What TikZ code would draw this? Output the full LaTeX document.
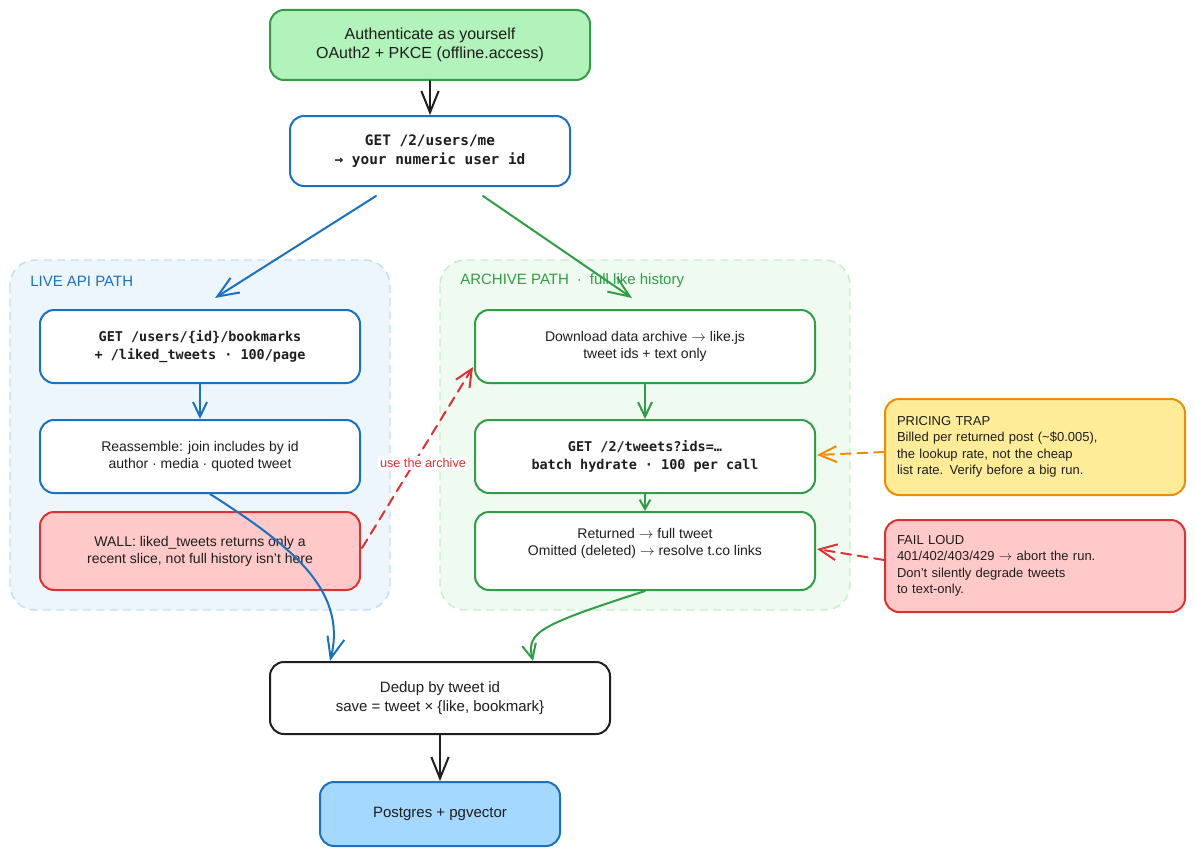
\documentclass[tikz,border=0pt]{standalone}
\usepackage{fontspec}
\setmainfont{Liberation Sans}
\setmonofont{DejaVu Sans Mono}
\usetikzlibrary{arrows.meta,calc}
\definecolor{ink}{HTML}{1E1E1E}
\definecolor{gline}{HTML}{2F9E44}
\definecolor{gfill}{HTML}{B2F2BB}
\definecolor{bline}{HTML}{1971C2}
\definecolor{bfill}{HTML}{A5D8FF}
\definecolor{rline}{HTML}{E03131}
\definecolor{rfill}{HTML}{FFC9C9}
\definecolor{oline}{HTML}{F08C00}
\definecolor{ofill}{HTML}{FFEC99}
\definecolor{livefill}{HTML}{EEF6FD}
\definecolor{liveedge}{HTML}{BFDFF7}
\definecolor{arcfill}{HTML}{EFFBF1}
\definecolor{arcedge}{HTML}{C4EFCB}
\newcommand{\myfs}[2]{\fontsize{#1}{#2}\selectfont}
\newcommand{\rarr}{$\rightarrow$}
\begin{document}
\begin{tikzpicture}[x=0.75pt,y=-0.75pt,
  box/.style={draw, rounded corners=10.5pt, line width=1.5pt, align=center, inner sep=0pt, text=ink},
  region/.style={rounded corners=19pt, dash pattern=on 6pt off 4pt, line width=1.1pt},
  conn/.style={line width=1.5pt, line cap=round, line join=round},
  arr/.style={conn, -{Straight Barb[length=16pt,width=13pt]}},
  sarr/.style={conn, -{Straight Barb[length=11pt,width=10.5pt]}},
  darr/.style={conn, dash pattern=on 7.5pt off 5pt, -{Straight Barb[length=13pt,width=12pt]}},
  mono/.style={font=\ttfamily\bfseries\myfs{10.1}{13}},
  body/.style={font=\myfs{10.5}{12.75}},
]
\useasboundingbox (0,0) rectangle (1195,856);

% regions
\draw[region, draw=liveedge, fill=livefill] (10,260) rectangle (390,610);
\draw[region, draw=arcedge, fill=arcfill] (440,260) rectangle (850,610);
\node[anchor=west, text=bline, font=\myfs{11.25}{13}, inner sep=0pt] (livelbl) at (30,281) {LIVE API PATH};
\node[anchor=west, text=gline, font=\myfs{11.25}{13}, inner sep=0pt] (arclbl) at (460,281) {ARCHIVE PATH\hspace{6pt}·\hspace{6pt}full like history};

% nodes
\node[box, draw=gline, fill=gfill, minimum width=240pt, minimum height=52.5pt, font=\myfs{12}{14.25}] (auth) at (430,45)
  {Authenticate as yourself\\OAuth2 + PKCE (offline.access)};
\node[box, draw=bline, fill=white, minimum width=210pt, minimum height=52.5pt, font=\ttfamily\bfseries\myfs{10.8}{14.25}] (me) at (430,151)
  {GET /2/users/me\\→ your numeric user id};

\node[box, draw=bline, fill=white, minimum width=240pt, minimum height=54.75pt, mono] (bm) at (200,346.5)
  {GET /users/\{id\}/bookmarks\\+ /liked\_tweets · 100/page};
\node[box, draw=bline, fill=white, minimum width=240pt, minimum height=54.75pt, body] (re) at (200,456.5)
  {Reassemble: join includes by id\\author · media · quoted tweet};
\node[box, draw=rline, fill=rfill, minimum width=240pt, minimum height=58.5pt, body] (wall) at (200,551)
  {WALL: liked\_tweets returns only a\\recent slice, not full history isn't here};

\node[box, draw=gline, fill=white, minimum width=255pt, minimum height=54.75pt, body] (dl) at (645,346.5)
  {Download data archive \rarr\ like.js\\tweet ids + text only};
\node[box, draw=gline, fill=white, minimum width=255pt, minimum height=54.75pt, font=\ttfamily\bfseries\myfs{10.1}{13.5}] (hy) at (645,456.5)
  {GET /2/tweets?ids=…\\batch hydrate · 100 per call};
\node[box, draw=gline, fill=white, minimum width=255pt, minimum height=58.5pt] (ret) at (645,551) {};
\node[body, text=ink, align=center, inner sep=0pt] (rett) at (645,543)
  {Returned \rarr\ full tweet\\Omitted (deleted) \rarr\ resolve t.co links};

\node[box, draw=oline, fill=ofill, minimum width=225pt, minimum height=72pt, text width=207pt, align=left, font=\myfs{9.75}{12.4}] (pr) at (1035,447)
  {PRICING TRAP\\Billed per returned post (\textasciitilde\$0.005),\\the lookup rate, not the cheap\\list rate. Verify before a big run.};
\node[box, draw=rline, fill=rfill, minimum width=225pt, minimum height=69pt, text width=207pt, align=left, font=\myfs{9.75}{12.4}] (fail) at (1035,566)
  {FAIL LOUD\\401/402/403/429 \rarr\ abort the run.\\Don't silently degrade tweets\\to text-only.};

\node[box, draw=ink, fill=white, minimum width=255pt, minimum height=54pt, font=\myfs{11.25}{14.25}] (dd) at (440,698)
  {Dedup by tweet id\\save = tweet × \{like, bookmark\}};
\node[box, draw=bline, fill=bfill, minimum width=180pt, minimum height=48pt, font=\myfs{11.25}{13}] (pg) at (440,814)
  {Postgres + pgvector};

% connector coordinates
\coordinate (m1) at (376,196);
\coordinate (b1) at (215,298);
\coordinate (m2) at (483,196);
\coordinate (d1) at (632,298);
\coordinate (r1) at (210,494);
\coordinate (e1) at (330,661);
\coordinate (t1) at (645,591);
\coordinate (e2) at (533,661);
\coordinate (w1) at (362,548);
\coordinate (d2) at (473,367);
\coordinate (p1) at (884,452);
\coordinate (h1) at (817,455);
\coordinate (f1) at (884,560);
\coordinate (t2) at (817,549);

% connectors
\draw[arr, draw=ink] (auth.south) -- (me.north);
\draw[arr, draw=bline] (m1) -- (b1);
\draw[arr, draw=gline] (m2) -- (d1);
\draw[sarr, draw=bline] (bm.south) -- (re.north);
\draw[sarr, draw=gline] (dl.south) -- (hy.north);
\draw[conn, draw=gline, -{Straight Barb[length=7pt,width=8pt]}] (hy.south) -- (ret.north);
\draw[arr, draw=bline] (r1) .. controls (290,545) and (348,590) .. (e1);
\draw[sarr, draw=gline] (t1) .. controls (540,625) and (526,632) .. (e2);
\draw[darr, draw=rline] (w1) -- (d2);
\node[fill=white, text=rline, font=\myfs{9.5}{11}, inner sep=1.5pt] (lbl) at (423,463) {use the archive};
\draw[darr, draw=oline] (p1) -- (h1);
\draw[darr, draw=rline] (f1) -- (t2);
\draw[arr, draw=ink] (dd.south) -- (pg.north);
\end{tikzpicture}
\end{document}
